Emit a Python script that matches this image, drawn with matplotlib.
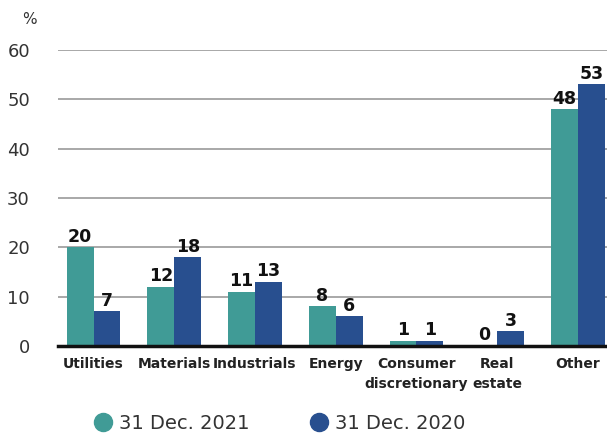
import matplotlib.pyplot as plt
import numpy as np

categories = ["Utilities", "Materials", "Industrials", "Energy",
              "Consumer\ndiscretionary", "Real\nestate", "Other"]
vals_2021 = [20, 12, 11, 8, 1, 0, 48]
vals_2020 = [7, 18, 13, 6, 1, 3, 53]
labels = ["31 Dec. 2021", "31 Dec. 2020"]
yticks = [0, 10, 20, 30, 40, 50, 60]

teal = "#409b96"
blue = "#284f8f"

plt.rcParams['font.family'] = ['DejaVu Sans']

fig = plt.figure(figsize=(6.07, 4.34), dpi=100)
ax = fig.add_axes([0.095, 0.203, 0.905, 0.682])

x = np.arange(len(categories))
w = 0.333
b1 = ax.bar(x - w / 2, vals_2021, w, color=teal, label=labels[0], zorder=3)
b2 = ax.bar(x + w / 2, vals_2020, w, color=blue, label=labels[1], zorder=3)

for bars in (b1, b2):
    for rect in bars:
        h = rect.get_height()
        ax.text(rect.get_x() + rect.get_width() / 2, h + 0.3, f"{h:g}",
                ha="center", va="bottom", fontsize=12.5, fontweight="bold",
                color="#111111", zorder=4)

ax.set_xlim(-0.444, 6.36)
ax.set_ylim(0, 60)
ax.set_yticks(yticks)
ax.yaxis.grid(True, color="#999999", linewidth=1.2, zorder=0)
ax.tick_params(axis="y", length=0, labelsize=13, labelcolor="#333333", pad=20)
ax.tick_params(axis="x", length=0, labelsize=10, pad=8)
ax.set_xticks(x)
ax.set_xticklabels(categories, fontweight="bold", color="#222222",
                   linespacing=1.5)
for s in ["top", "right", "left"]:
    ax.spines[s].set_visible(False)
ax.spines["bottom"].set_linewidth(2.5)
ax.spines["bottom"].set_color("#111111")
ax.spines["bottom"].set_zorder(5)

fig.text(0.036, 0.945, "%", fontsize=11, color="#333333")

handles = [plt.Line2D([], [], marker="o", linestyle="", markersize=13, color=c)
           for c in (teal, blue)]
fig.legend(handles, labels, loc="lower left", bbox_to_anchor=(0.122, -0.038),
           ncol=2, frameon=False, fontsize=14, handletextpad=0.2,
           columnspacing=3.0, labelcolor="#333333", handlelength=1.2)

fig.savefig("out.png", dpi=100)
